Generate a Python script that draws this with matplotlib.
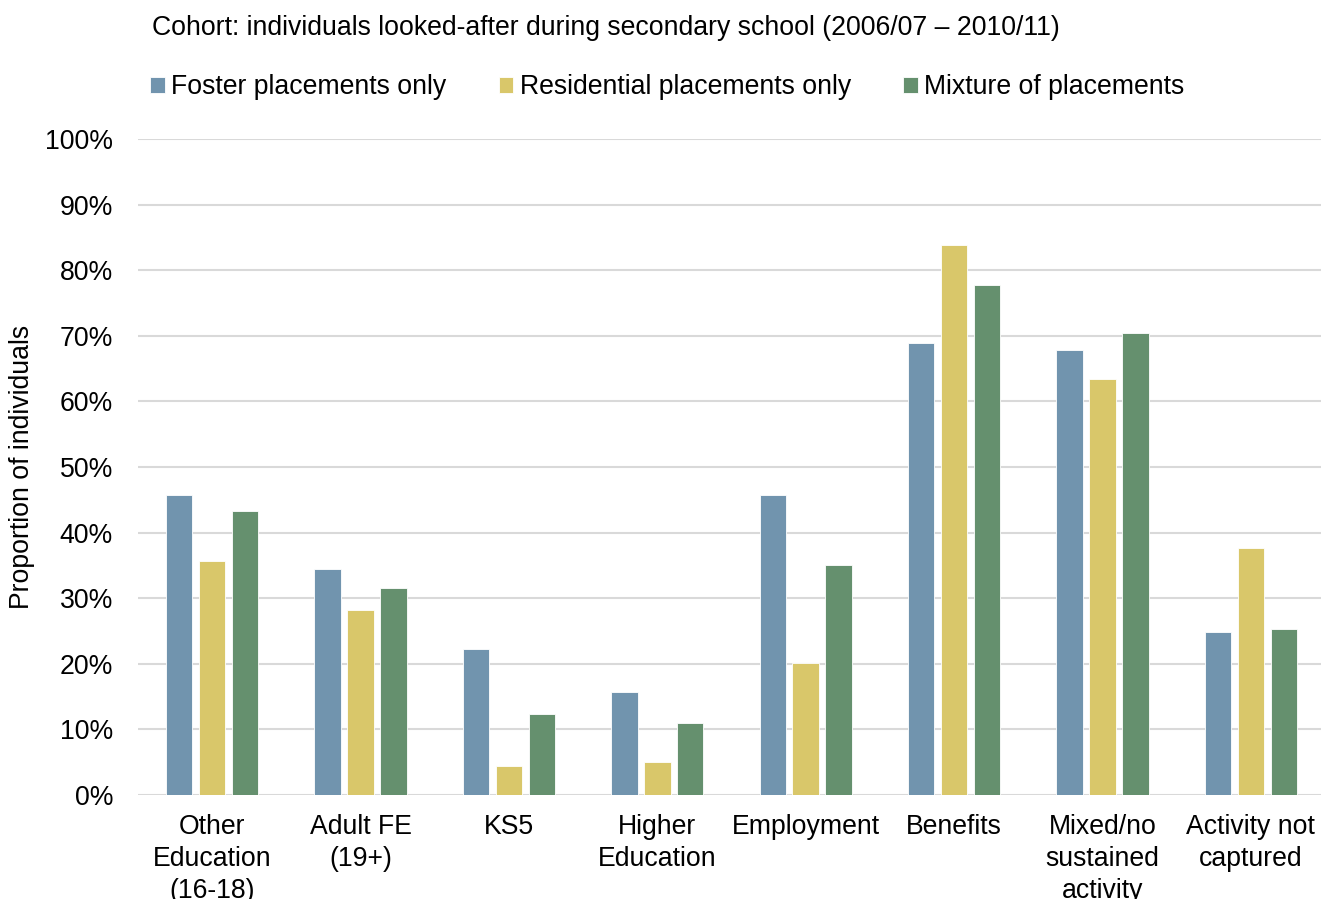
import matplotlib
matplotlib.use("Agg")
import matplotlib.pyplot as plt
import numpy as np

plt.rcParams["font.family"] = ["Liberation Sans", "DejaVu Sans"]

CATEGORIES = ["Other\nEducation\n(16-18)", "Adult FE\n(19+)", "KS5", "Higher\nEducation", "Employment",
              "Benefits", "Mixed/no\nsustained\nactivity", "Activity not\ncaptured"]
FOSTER = [45.8, 34.5, 22.2, 15.7, 45.8, 68.9, 67.9, 24.9]
RESIDENTIAL = [35.7, 28.2, 4.4, 5.0, 20.1, 83.9, 63.4, 37.6]
MIXTURE = [43.3, 31.5, 12.4, 10.9, 35.0, 77.7, 70.5, 25.3]
SERIES_NAMES = ["Foster placements only", "Residential placements only", "Mixture of placements"]
Y_TICKS = [0, 10, 20, 30, 40, 50, 60, 70, 80, 90, 100]

COLORS = ["#7194ae", "#d9c76a", "#65906e"]
FONT_SIZE = 19.2
W, H = 1321, 899


def start_plot(out_file):
    fig = plt.figure(figsize=(W / 100, H / 100), dpi=100)
    ax = fig.add_axes([138 / W, 1 - 795 / H, 1187 / W, (795 - 139) / H])

    x = np.arange(len(CATEGORIES))
    offset = 0.222
    width = 0.178
    handles = []
    for i, (vals, name) in enumerate(zip([FOSTER, RESIDENTIAL, MIXTURE], SERIES_NAMES)):
        b = ax.bar(x + (i - 1) * offset, vals, width, color=COLORS[i], edgecolor="white", linewidth=0.6,
                   label=name, zorder=3)
        handles.append(b)

    ax.set_xlim(-0.5, len(CATEGORIES) - 0.5)
    ax.set_ylim(0, 100)
    ax.set_yticks(Y_TICKS)
    ax.set_yticklabels(["{}%".format(t) for t in Y_TICKS])
    ax.set_xticks(x)
    ax.set_xticklabels(CATEGORIES, linespacing=1.28)
    ax.tick_params(axis="y", length=0, pad=18, labelsize=FONT_SIZE)
    ax.tick_params(axis="x", length=0, pad=14, labelsize=FONT_SIZE)
    ax.yaxis.grid(True, color="#d9d9d9", linewidth=1.5, zorder=0)
    for s in ax.spines.values():
        s.set_visible(False)

    fig.text(22 / W, 1 - 467 / H, "Proportion of individuals", rotation=90, ha="center", va="center",
             fontsize=FONT_SIZE)
    fig.text(152 / W, 1 - 28 / H, "Cohort: individuals looked-after during secondary school (2006/07 \u2013 2010/11)",
             ha="left", va="center", fontsize=FONT_SIZE)

    fig.legend(handles=handles, loc="center left", bbox_to_anchor=(150 / W, 1 - 87 / H), ncol=3, frameon=False,
               fontsize=FONT_SIZE, handlelength=0.55, handleheight=0.55, handletextpad=0.25, columnspacing=1.95,
               borderpad=0, borderaxespad=0)

    fig.savefig(out_file, dpi=100)


if __name__ == "__main__":
    start_plot("out.png")
